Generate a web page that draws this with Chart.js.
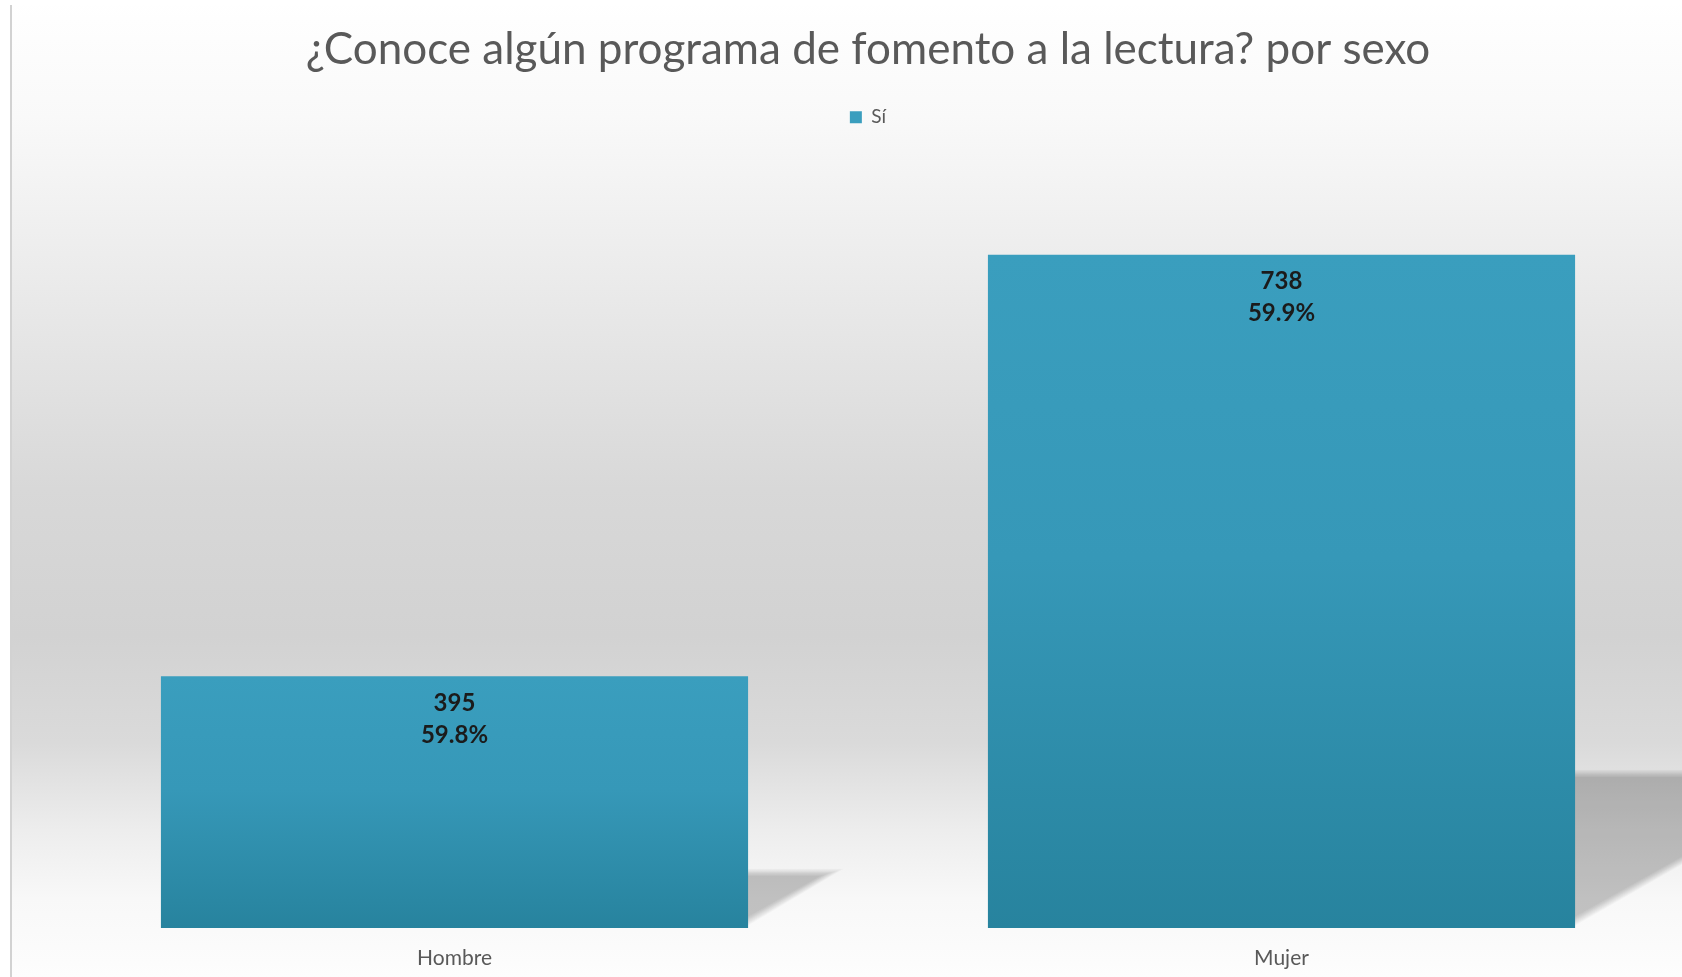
<!DOCTYPE html>
<html>
<head>
<meta charset="utf-8">
<script src="https://cdn.jsdelivr.net/npm/chart.js@4/dist/chart.umd.min.js"></script>
<style>
  html, body { margin: 0; padding: 0; background: #fff; overflow: hidden; }
  #wrap { position: absolute; left: 10px; top: 0; width: 1720px; height: 977px; }
</style>
</head>
<body>
<div id="wrap"><canvas id="chart"></canvas></div>
<script>
(function(){
  const categories = ['Hombre', 'Mujer'];
  const seriesName = 'Sí';
  const counts = [395, 738];
  const percents = [59.8, 59.9];
  const axisMin = 190;
  const axisMax = 834;

  const FONT = 'Lato';

  function barFill(ctx) {
    const chart = ctx.chart;
    const y = chart.scales && chart.scales.y;
    if (!chart.chartArea || !y || ctx.type !== 'data') return '#3499ba';
    const top = y.getPixelForValue(counts[ctx.dataIndex]);
    const base = y.getPixelForValue(axisMin);
    const g = chart.ctx.createLinearGradient(0, top, 0, base);
    g.addColorStop(0, '#3a9ebe');
    g.addColorStop(0.45, '#3698b8');
    g.addColorStop(1, '#27839e');
    return g;
  }

  // gradient backdrop + left frame line
  const backdrop = {
    id: 'backdrop',
    beforeDraw(chart) {
      const c = chart.ctx;
      const w = chart.width, h = chart.height;
      c.save();
      const g = c.createLinearGradient(0, 0, 0, h);
      g.addColorStop(0, '#ffffff');
      g.addColorStop(0.12, '#f9f9f9');
      g.addColorStop(0.33, '#e7e7e7');
      g.addColorStop(0.5, '#d8d8d8');
      g.addColorStop(0.65, '#d2d2d2');
      g.addColorStop(0.76, '#dadada');
      g.addColorStop(0.85, '#ededed');
      g.addColorStop(0.92, '#f8f8f8');
      g.addColorStop(1, '#fdfdfd');
      c.fillStyle = g;
      c.fillRect(2, 5, w - 2, h - 5);
      c.fillStyle = '#d2d2d2';
      c.fillRect(0, 5, 2, h - 5);
      c.restore();
    }
  };

  // soft cast shadow to the right of each bar: stacked translucent triangles
  const barShadow = {
    id: 'barShadow',
    beforeDatasetsDraw(chart) {
      const c = chart.ctx;
      const steps = 10;
      chart.getDatasetMeta(0).data.forEach(bar => {
        const right = bar.x + bar.width / 2 - 4;
        const sh = (bar.base - bar.y) * 0.235;
        const w = sh / 0.56;
        c.save();
        c.fillStyle = 'rgba(0,0,0,0.022)';
        for (let k = 0; k < steps; k++) {
          const d = k * 2.6;
          const top = bar.base - sh + k * 0.8;
          c.beginPath();
          c.moveTo(right, top);
          c.lineTo(right + w - d - 6, top);
          c.lineTo(right, bar.base - d * 0.4);
          c.closePath();
          c.fill();
        }
        c.restore();
      });
    }
  };

  const barLabels = {
    id: 'barLabels',
    afterDatasetsDraw(chart) {
      const c = chart.ctx;
      c.save();
      c.font = 'bold 24px ' + FONT;
      c.fillStyle = '#1b1b1b';
      c.textAlign = 'center';
      c.textBaseline = 'middle';
      chart.getDatasetMeta(0).data.forEach((bar, i) => {
        c.fillText(String(counts[i]), bar.x, bar.y + 27);
        c.fillText(percents[i].toFixed(1) + '%', bar.x, bar.y + 59);
      });
      c.restore();
    }
  };

  new Chart(document.getElementById('chart'), {
    type: 'bar',
    data: {
      labels: categories,
      datasets: [{
        label: seriesName,
        data: counts,
        base: axisMin,
        backgroundColor: barFill,
        borderWidth: 0,
        categoryPercentage: 1,
        barPercentage: 0.71,
      }]
    },
    options: {
      responsive: true,
      maintainAspectRatio: false,
      animation: false,
      layout: { padding: { left: 31, right: 35, top: 0, bottom: 0 } },
      plugins: {
        title: {
          display: true,
          text: '¿Conoce algún programa de fomento a la lectura? por sexo',
          color: '#595959',
          font: { family: FONT, size: 44, weight: 'normal' },
          padding: { top: 23, bottom: 22 },
        },
        legend: {
          display: true,
          position: 'top',
          labels: {
            color: '#595959',
            font: { family: FONT, size: 19 },
            boxWidth: 12,
            boxHeight: 12,
            padding: 10,
          },
        },
        tooltip: { enabled: false },
      },
      scales: {
        x: {
          grid: { display: false, drawTicks: false },
          border: { display: false },
          ticks: {
            color: '#595959',
            font: { family: FONT, size: 21 },
            padding: 18,
          },
          afterFit(scale) { scale.height = 49; },
        },
        y: {
          display: false,
          min: axisMin,
          max: axisMax,
        }
      }
    },
    plugins: [backdrop, barShadow, barLabels]
  });
})();
</script>
</body>
</html>
